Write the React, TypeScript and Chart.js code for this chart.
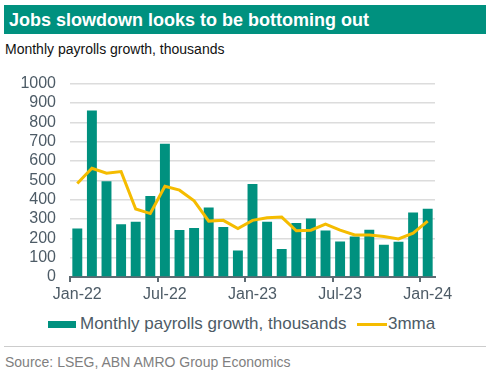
import React, { useEffect, useRef } from 'react';
import { Chart, registerables } from 'chart.js';

Chart.register(...registerables);

const months = [
  'Jan-22', 'Feb-22', 'Mar-22', 'Apr-22', 'May-22', 'Jun-22', 'Jul-22', 'Aug-22', 'Sep-22', 'Oct-22', 'Nov-22', 'Dec-22',
  'Jan-23', 'Feb-23', 'Mar-23', 'Apr-23', 'May-23', 'Jun-23', 'Jul-23', 'Aug-23', 'Sep-23', 'Oct-23', 'Nov-23', 'Dec-23',
  'Jan-24',
];
const payrolls = [251, 861, 495, 273, 286, 419, 689, 243, 254, 360, 259, 137, 481, 286, 145, 279, 303, 240, 184, 209, 244, 167, 182, 333, 353];
const mma3 = [483, 562, 537, 545, 352, 328, 469, 449, 394, 289, 293, 251, 293, 306, 310, 239, 242, 273, 242, 217, 217, 209, 197, 227, 289];
const yMin = 0;
const yMax = 1000;
const yStep = 100;

const TEAL = '#00917f';
const YELLOW = '#f5bc00';
const AXIS_TEXT = '#4d5b66';
const FONT = 'Arial, "Liberation Sans", sans-serif';

export default function App() {
  const ref = useRef<HTMLCanvasElement | null>(null);

  useEffect(() => {
    if (!ref.current) return;
    const chart = new Chart(ref.current, {
      type: 'bar',
      data: {
        labels: months,
        datasets: [
          {
            type: 'bar',
            label: 'Monthly payrolls growth, thousands',
            data: payrolls,
            backgroundColor: TEAL,
            barPercentage: 0.68,
            categoryPercentage: 1,
            order: 2,
          },
          {
            type: 'line',
            label: '3mma',
            data: mma3,
            borderColor: YELLOW,
            backgroundColor: YELLOW,
            borderWidth: 3,
            pointRadius: 0,
            tension: 0,
            order: 1,
          },
        ],
      },
      options: {
        responsive: false,
        animation: false,
        devicePixelRatio: 1,
        layout: { padding: { top: 19, right: 57, left: 0, bottom: 0 } },
        plugins: { legend: { display: false }, tooltip: { enabled: false } },
        scales: {
          x: {
            offset: true,
            afterFit: (s: any) => { s.height = 33; },
            grid: {
              display: true,
              drawOnChartArea: false,
              drawTicks: true,
              tickLength: 5,
              offset: true,
              lineWidth: 2,
              color: (ctx: any) => (typeof ctx.index === 'number' && ctx.index % 6 === 0 ? '#5f6b73' : 'rgba(0,0,0,0)'),
            },
            border: { display: true, color: '#5f6b73', width: 2 },
            ticks: {
              autoSkip: false,
              maxRotation: 0,
              padding: 3,
              color: AXIS_TEXT,
              font: { family: FONT, size: 16 },
              callback: (_v: any, i: number) => (i % 6 === 0 ? months[i] : ''),
            },
          },
          y: {
            min: yMin,
            max: yMax,
            afterFit: (s: any) => { s.width = 70; },
            grid: { color: '#dcdcdc', lineWidth: 1.5, drawTicks: false },
            border: { display: false },
            ticks: {
              stepSize: yStep,
              autoSkip: false,
              padding: 14,
              color: AXIS_TEXT,
              font: { family: FONT, size: 16 },
              callback: (v: any) => String(v),
            },
          },
        },
      },
    });
    return () => chart.destroy();
  }, []);

  return (
    <div style={{ position: 'fixed', left: 0, top: 0, width: 492, height: 374, background: '#fff', fontFamily: FONT, overflow: 'hidden' }}>
      <div style={{ position: 'absolute', left: 4, top: 5, width: 482, height: 29, background: TEAL }} />
      <div style={{ position: 'absolute', left: 9, top: 6, lineHeight: '29px', fontSize: 18, fontWeight: 'bold', color: '#fff', whiteSpace: 'nowrap' }}>
        Jobs slowdown looks to be bottoming out
      </div>
      <div style={{ position: 'absolute', left: 5, top: 40.5, lineHeight: '16px', fontSize: 14, color: '#111', whiteSpace: 'nowrap' }}>
        Monthly payrolls growth, thousands
      </div>
      <canvas ref={ref} width={492} height={250} style={{ position: 'absolute', left: 0, top: 60, width: 492, height: 250 }} />
      <div style={{ position: 'absolute', left: 48, top: 320.5, width: 28, height: 7, background: TEAL }} />
      <div style={{ position: 'absolute', left: 80, top: 314, lineHeight: '20px', fontSize: 17, color: AXIS_TEXT, whiteSpace: 'nowrap' }}>
        Monthly payrolls growth, thousands
      </div>
      <div style={{ position: 'absolute', left: 357, top: 322.5, width: 30, height: 3, background: YELLOW }} />
      <div style={{ position: 'absolute', left: 388, top: 314, lineHeight: '20px', fontSize: 17, color: AXIS_TEXT, whiteSpace: 'nowrap' }}>
        3mma
      </div>
      <div style={{ position: 'absolute', left: 4, top: 346, width: 482, height: 1, background: '#cccccc' }} />
      <div style={{ position: 'absolute', left: 5, top: 354, lineHeight: '16px', fontSize: 14, color: '#7f7f7f', whiteSpace: 'nowrap' }}>
        Source: LSEG, ABN AMRO Group Economics
      </div>
    </div>
  );
}
